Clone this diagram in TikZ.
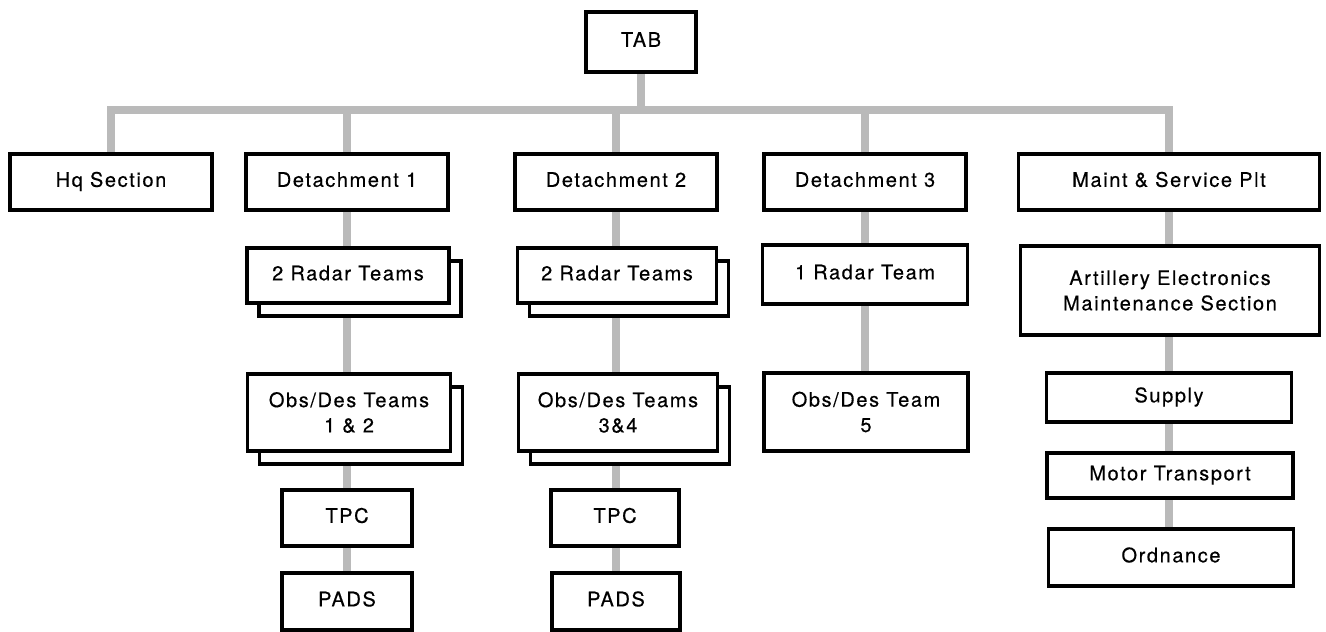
\documentclass[tikz,border=0pt]{standalone}
\usepackage{fontspec}
\setmainfont{TeX Gyre Heros}[LetterSpace=8, FakeBold=0.4]
\usetikzlibrary{shadows,backgrounds}
\begin{document}
\begin{tikzpicture}[x=0.75pt, y=-0.75pt,
    hop/.style={draw=black, line width=2.9pt, fill=white, inner sep=0pt,
        align=center, text height=0.72em, text depth=0pt,
        font=\fontsize{15}{19}\selectfont},
    hai/.style={text height={}, text depth={}},
    chong/.style={hop, copy shadow={shadow xshift=9pt, shadow yshift=-9.5pt}},
    noi/.style={draw=black!27, line width=5.5pt}]
    % 1. Khung hình
    \useasboundingbox (0,0) rectangle (1326,631);

    % 2. Hàng trên cùng
    \node[hop, minimum width=83pt, minimum height=45pt] (tab) at (641,42) {TAB};
    \node[hop, minimum width=152pt, minimum height=42.5pt] (hq) at (111,182) {Hq Section};
    \node[hop, minimum width=151.5pt, minimum height=42.5pt] (det1) at (347,182) {Detachment 1};
    \node[hop, minimum width=151pt, minimum height=42.5pt] (det2) at (616,182) {Detachment 2};
    \node[hop, minimum width=152pt, minimum height=42.5pt] (det3) at (865,182) {Detachment 3};
    \node[hop, minimum width=225.75pt, minimum height=42.5pt] (maint) at (1169,182) {Maint \& Service Plt};

    % 3. Cột Detachment 1
    \node[chong, minimum width=151.5pt, minimum height=41.25pt] (radarA) at (348,275.5) {2 Radar Teams};
    \node[chong, hai, minimum width=152.25pt, minimum height=57.75pt] (obsA) at (349,412.5) {Obs/Des Teams\\1 \& 2};
    \node[hop, minimum width=97.5pt, minimum height=42pt] (tpcA) at (347,518) {TPC};
    \node[hop, minimum width=97.5pt, minimum height=42.75pt] (padsA) at (347,601.5) {PADS};

    % 4. Cột Detachment 2
    \node[chong, minimum width=149.25pt, minimum height=41.25pt] (radarB) at (617,275.5) {2 Radar Teams};
    \node[chong, hai, minimum width=149.25pt, minimum height=57.75pt] (obsB) at (618,412.5) {Obs/Des Teams\\3\&4};
    \node[hop, minimum width=96pt, minimum height=42pt] (tpcB) at (615,518) {TPC};
    \node[hop, minimum width=96pt, minimum height=42.75pt] (padsB) at (616,601.5) {PADS};

    % 5. Cột Detachment 3
    \node[hop, minimum width=153.75pt, minimum height=44.25pt] (radarC) at (865,274.5) {1 Radar Team};
    \node[hop, hai, minimum width=153pt, minimum height=58.5pt] (obsC) at (866,412) {Obs/Des Team\\5};

    % 6. Cột Maint & Service Plt
    \node[hop, hai, minimum width=224.25pt, minimum height=66.75pt] (aems) at (1170,290.5) {Artillery Electronics\\Maintenance Section};
    \node[hop, minimum width=183.75pt, minimum height=36.75pt] (supply) at (1169,397.5) {Supply};
    \node[hop, minimum width=184.5pt, minimum height=33.75pt] (motor) at (1170,475.5) {Motor Transport};
    \node[hop, minimum width=183.75pt, minimum height=42.75pt] (ordn) at (1171,557.5) {Ordnance};

    % 7. Đường nối màu xám (nằm dưới các hộp)
    \begin{scope}[on background layer]
        \coordinate (bar) at (641,110);
        \draw[noi] (hq) |- (bar) -| (maint);
        \draw[noi] (tab) -- (bar);
        \foreach \n in {det1, det2, det3}
            \draw[noi] (\n |- bar) -- (\n);
        \foreach \a/\b in {det1/padsA, det2/padsB, det3/obsC, maint/ordn}
            \draw[noi] (\a) -- (\a |- \b);
    \end{scope}
\end{tikzpicture}
\end{document}
